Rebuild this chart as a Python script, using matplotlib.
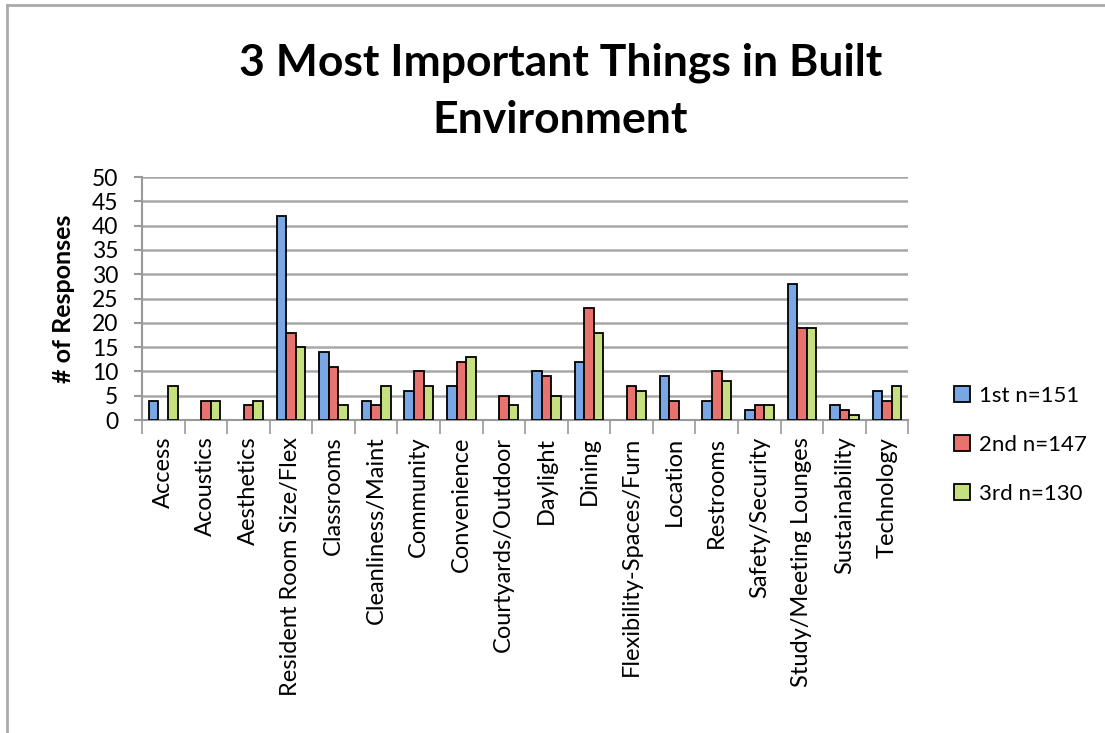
import matplotlib
matplotlib.use("Agg")
import matplotlib.pyplot as plt
import numpy as np
from matplotlib.lines import Line2D
from matplotlib.patches import Patch

categories = ["Access", "Acoustics", "Aesthetics", "Resident Room Size/Flex", "Classrooms",
              "Cleanliness/Maint", "Community", "Convenience", "Courtyards/Outdoor", "Daylight",
              "Dining", "Flexibility-Spaces/Furn", "Location", "Restrooms", "Safety/Security",
              "Study/Meeting Lounges", "Sustainability", "Technology"]
first = [4, 0, 0, 42, 14, 4, 6, 7, 0, 10, 12, 0, 9, 4, 2, 28, 3, 6]
second = [0, 4, 3, 18, 11, 3, 10, 12, 5, 9, 23, 7, 4, 10, 3, 19, 2, 4]
third = [7, 4, 4, 15, 3, 7, 7, 13, 3, 5, 18, 6, 0, 8, 3, 19, 1, 7]
series_labels = ["1st n=151", "2nd n=147", "3rd n=130"]
colors = ["#79a7e3", "#e8726e", "#c6e07f"]

plt.rcParams['font.family'] = ['Lato', 'DejaVu Sans']

fig = plt.figure(figsize=(11.05, 7.33), dpi=100)
ax = fig.add_axes([0.1285, 0.427, 0.822 - 0.1285, 0.7585 - 0.427])

x = np.arange(len(categories))
w = 0.225
handles = []
for i, (vals, c, lab) in enumerate(zip([first, second, third], colors, series_labels)):
    b = ax.bar(x + (i - 1) * w, vals, width=w, color=c, edgecolor="black", linewidth=1.3,
               label=lab, zorder=3)
    for p, v in zip(b.patches, vals):
        if v == 0:
            p.set_visible(False)
    handles.append(Patch(facecolor=c, edgecolor="black", linewidth=1.3))

ax.set_xlim(-0.5, len(categories) - 0.5)
ax.set_ylim(0, 50)
ax.set_yticks(range(0, 51, 5))
ax.tick_params(axis='y', labelsize=16.5, length=6, color="#999999", width=1.5, pad=11)
ax.yaxis.grid(True, color="#a8a8a8", linewidth=1.8, zorder=0)
ax.set_axisbelow(True)

ax.set_xticks(x)
ax.set_xticklabels(categories, rotation=90, fontsize=17)
ax.tick_params(axis='x', length=0, pad=12)
ax.set_xticks(np.arange(-0.5, len(categories), 1), minor=True)
ax.tick_params(axis='x', which='minor', length=10, color="#999999", width=1.2)

for s in ["top", "right"]:
    ax.spines[s].set_visible(False)
ax.spines["left"].set_color("#999999")
ax.spines["left"].set_linewidth(1.5)
ax.spines["bottom"].set_color("#999999")
ax.spines["bottom"].set_linewidth(1.5)

ax.set_ylabel("# of Responses", fontsize=18, fontweight="bold", labelpad=12)

fig.text(0.507, 0.915, "3 Most Important Things in Built", ha="center", va="center",
         fontsize=32, fontweight="bold")
fig.text(0.507, 0.836, "Environment", ha="center", va="center",
         fontsize=32, fontweight="bold")

fig.legend(handles=handles, labels=series_labels, loc="center left",
           bbox_to_anchor=(0.845, 0.393), frameon=False, fontsize=16,
           handlelength=0.75, handleheight=0.75, labelspacing=1.3, handletextpad=0.4)

fig.add_artist(Line2D([0.0065, 0.0065], [0, 0.993], transform=fig.transFigure,
                      color="#aaaaaa", linewidth=2))
fig.add_artist(Line2D([0.0065, 1.0], [0.993, 0.993], transform=fig.transFigure,
                      color="#aaaaaa", linewidth=2))

fig.savefig("out.png", dpi=100)
